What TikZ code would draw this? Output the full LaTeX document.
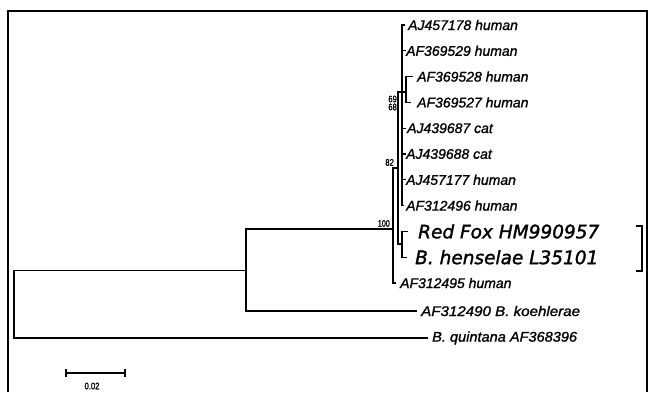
\documentclass[tikz,border=0pt]{standalone}
\usepackage{fontspec}
\usepackage{graphicx}
\setmainfont{Liberation Sans}
\newfontfamily\smallf[FakeBold=1.2]{Liberation Sans}
\newfontfamily\bigf[FakeBold=1.6]{DejaVu Sans}
\newfontfamily\bootf[FakeBold=1.5]{Liberation Sans}
\tikzset{
  br/.style={line width=1.2pt, line cap=rect},
  cl/.style={line width=1.6pt},
  frame/.style={line width=2pt},
  tip/.style={anchor=west, inner sep=0pt, font=\smallf\fontsize{14}{14}\selectfont\itshape},
  bigtip/.style={anchor=west, inner sep=0pt, font=\bigf\fontsize{18.5}{18.5}\selectfont\itshape},
  boot/.style={inner sep=0pt, font=\bootf\fontsize{9.5}{9.5}\selectfont},
}
\begin{document}
\begin{tikzpicture}[x=1pt,y=-1pt]
\useasboundingbox (0,0) rectangle (651,392);
% frame
\draw[frame] (8,392) -- (8,11) -- (647,11) -- (647,392);
% internal nodes
\coordinate (root) at (14,270.5);
\coordinate (nA) at (246,270.5);
\coordinate (n100) at (393,229);
\coordinate (n82) at (398,168);
\coordinate (n68) at (402,92);
\coordinate (n69) at (406,92);
\coordinate (nRF) at (402,244);
% tip labels
\node[tip] (t1) at (408,25) {AJ457178 human};
\node[tip] (t2) at (406,50.8) {AF369529 human};
\node[tip] (t3) at (417,76.6) {AF369528 human};
\node[tip] (t4) at (417,102.4) {AF369527 human};
\node[tip] (t5) at (407,128.2) {AJ439687 cat};
\node[tip] (t6) at (406,154) {AJ439688 cat};
\node[tip] (t7) at (406,179.8) {AJ457177 human};
\node[tip] (t8) at (406,205.6) {AF312496 human};
\node[bigtip] (t9) at (418,231.4) {Red Fox HM990957};
\node[bigtip] (t10) at (415,257.2) {B. henselae L35101};
\node[tip] (t11) at (400,283) {AF312495 human};
\node[tip] (t12) at (421,311) {\scalebox{1.08}[1]{AF312490 B. koehlerae}};
\node[tip] (t13) at (432,338) {\scalebox{1.04}[1]{B. quintana AF368396}};
% branch ends
\coordinate (e1) at (405,25);
\coordinate (e3) at (412,76.6);
\coordinate (e4) at (410,102.4);
\coordinate (e8) at (404,205.6);
\coordinate (e9) at (407,231.4);
\coordinate (e10) at (406,257.2);
\coordinate (e11) at (396,283);
\coordinate (e12) at (416,311);
\coordinate (e13) at (427,338);
% tree
\draw[br] (nA) -- (root) |- (e13);
\draw[br] (n100) -| (nA) |- (e12);
\draw[cl] (n82) -| (n100) |- (e11);
\draw[cl] (n68) -| (n82) |- (nRF);
\draw[br] (e9) -| (nRF) |- (e10);
\draw[cl] (e1) -| (n68) |- (e8);
\draw[br] (n68) -- (n69);
\draw[br] (e3) -| (n69) |- (e4);
\foreach \t in {t2,t5,t6,t7} \draw[br] (n68 |- \t.west) -- ++(3,0);
% bootstrap values
\node[boot, anchor=south east] (b100) at (390,227) {\scalebox{0.75}[1]{100}};
\node[boot, anchor=south east] (b82) at (394,166) {\scalebox{0.8}[1]{82}};
\node[boot, anchor=east] (b69) at (397,99) {\scalebox{0.8}[1]{69}};
\node[boot, anchor=east] (b68) at (397,107) {\scalebox{0.8}[1]{68}};
% bracket
\draw[line width=2.4pt] (636,226) -- (642,226) -- (642,271) -- (636,271);
% scale bar
\coordinate (s1) at (66,373);
\coordinate (s2) at (125,373);
\draw[line width=1.4pt] (s1) -- (s2);
\draw[line width=1.2pt] ([yshift=-4]s1) -- ([yshift=4]s1) ([yshift=-4]s2) -- ([yshift=4]s2);
\node[boot] (sl) at (92,386) {\scalebox{0.8}[1]{0.02}};
\end{tikzpicture}
\end{document}
